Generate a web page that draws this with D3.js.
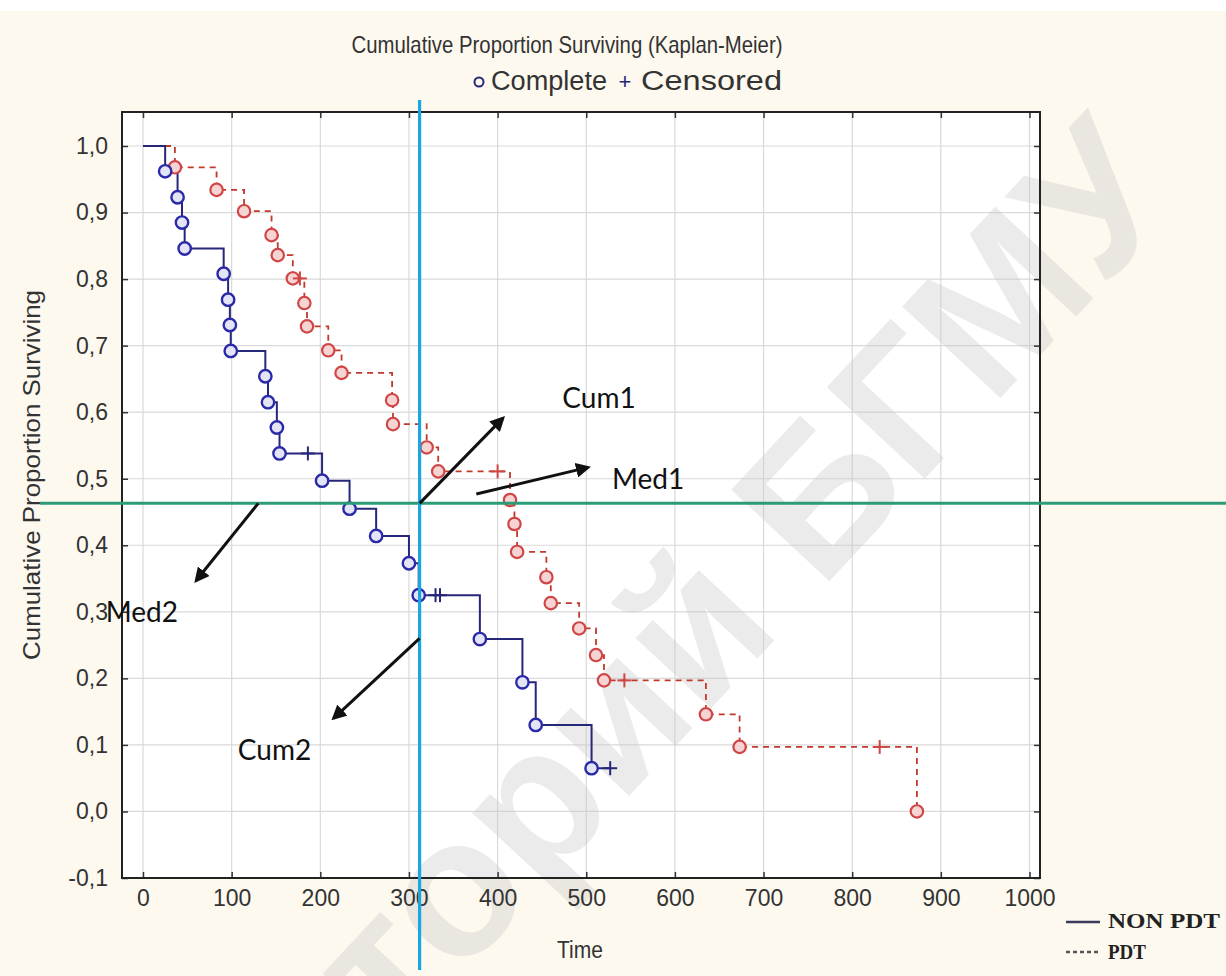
<!DOCTYPE html>
<html><head><meta charset="utf-8">
<script src="https://cdn.jsdelivr.net/npm/d3@7/dist/d3.min.js"></script>
<style>
html,body{margin:0;padding:0;background:#fdf9ef;}
svg{display:block;}
text{font-family:"Liberation Sans",Arial,sans-serif;}
</style></head>
<body><svg id="c" width="1226" height="976"></svg>
<script>
// ---------- data ----------
const xTickValues = [0,100,200,300,400,500,600,700,800,900,1000];
const yTickValues = [-0.1,0,0.1,0.2,0.3,0.4,0.5,0.6,0.7,0.8,0.9,1.0];

// NON PDT (solid, navy): event times and survival after each event
const nonPdtTimes    = [25,39,44,47,91,96,98,99,138,141,151,154,202,233,263,300,311,380,428,443,506];
const nonPdtSurvival = [0.962,0.923,0.885,0.846,0.808,0.769,0.731,0.692,0.654,0.615,0.577,0.538,0.497,0.455,0.414,0.373,0.325,0.259,0.194,0.130,0.065];
const nonPdtCensorTimes = [186,330,335,527];
const nonPdtCensorSurv  = [0.538,0.325,0.325,0.065];

// PDT (dashed, red)
const pdtTimes    = [36,83,114,145,152,169,182,185,209,224,281,282,320,333,414,419,422,455,460,492,511,520,635,673,873];
const pdtSurvival = [0.968,0.934,0.902,0.866,0.836,0.801,0.764,0.729,0.693,0.659,0.618,0.582,0.547,0.511,0.468,0.432,0.390,0.352,0.313,0.275,0.235,0.197,0.146,0.097,0.0];
const pdtCensorTimes = [177,400,543,831];
const pdtCensorSurv  = [0.801,0.511,0.197,0.097];

// reference lines
const medianLineValue = 0.463;
const cumLineTime = 312;

// annotation arrows [time, surv]
const arrowNames = ["Cum1","Med1","Med2","Cum2"];
const arrowFrom  = [[312,0.463],[376,0.477],[130,0.463],[312,0.260]];
const arrowTo    = [[406,0.591],[502,0.517],[60,0.347],[215,0.140]];
const labelPos   = [[473,0.606],[529,0.484],[-42,0.284],[107,0.077]];

// ---------- layout ----------
const svg = d3.select("#c");
const W = 1226, H = 976;
const frame = {left:122, right:1040, top:112, bottom:878};
const x = d3.scaleLinear().domain([0,1000]).range([143,1029.5]);
const y = d3.scaleLinear().domain([-0.1,1.0]).range([878,146]);
const fmtY = v => d3.format(".1f")(v).replace("−","-").replace(".",",").replace("-0,0","0,0");

svg.append("rect").attr("x",0).attr("y",0).attr("width",W).attr("height",11).attr("fill","#ffffff");
svg.append("rect").attr("x",0).attr("y",11).attr("width",W).attr("height",H-11).attr("fill","#fdf9ef");

// plot area
svg.append("rect").attr("x",frame.left).attr("y",frame.top)
  .attr("width",frame.right-frame.left).attr("height",frame.bottom-frame.top).attr("fill","#ffffff");

// grid
const g = svg.append("g");
g.selectAll(".vg").data(xTickValues).join("line")
  .attr("x1",d=>x(d)).attr("x2",d=>x(d)).attr("y1",frame.top).attr("y2",frame.bottom)
  .attr("stroke","#d9d9d9").attr("stroke-width",1.2);
g.selectAll(".hg").data(yTickValues).join("line")
  .attr("y1",d=>y(d)).attr("y2",d=>y(d)).attr("x1",frame.left).attr("x2",frame.right)
  .attr("stroke","#d9d9d9").attr("stroke-width",1.2);

// watermark
svg.append("text").attr("transform","translate(1185,200) rotate(-47)")
  .attr("text-anchor","end").style("font-size","195px").style("font-weight","bold")
  .attr("fill","#c4c4c4").attr("opacity",0.32).text("Репозиторий БГМУ");

// axes
const axL = d3.axisLeft(y).tickValues(yTickValues).tickFormat(fmtY).tickSize(-6).tickPadding(14);
const axB = d3.axisBottom(x).tickValues(xTickValues).tickFormat(d3.format("d")).tickSize(-6).tickPadding(12);
const axT = d3.axisTop(x).tickValues(xTickValues).tickFormat("").tickSize(-6);
const axR = d3.axisRight(y).tickValues(yTickValues).tickFormat("").tickSize(-6);
function styleAxis(sel){
  sel.select(".domain").remove();
  sel.selectAll(".tick line").attr("stroke","#333").attr("stroke-width",1.5);
  sel.selectAll(".tick text").attr("fill","#333").style("font-size","23px");
}
svg.append("g").attr("transform",`translate(${frame.left},0)`).call(axL).call(styleAxis);
svg.append("g").attr("transform",`translate(0,${frame.bottom})`).call(axB).call(styleAxis);
svg.append("g").attr("transform",`translate(0,${frame.top})`).call(axT).call(styleAxis);
svg.append("g").attr("transform",`translate(${frame.right},0)`).call(axR).call(styleAxis);
svg.append("rect").attr("x",frame.left).attr("y",frame.top)
  .attr("width",frame.right-frame.left).attr("height",frame.bottom-frame.top)
  .attr("fill","none").attr("stroke","#222").attr("stroke-width",2);

// step path builder
function stepPts(times, surv, endTime){
  const pts = [[0,1.0]];
  let s = 1.0;
  times.forEach((t,i)=>{ pts.push([t,s]); s = surv[i]; pts.push([t,s]); });
  if(endTime!=null) pts.push([endTime,s]);
  return pts;
}
const line = d3.line().x(d=>x(d[0])).y(d=>y(d[1]));

const navy = "#27277a", navyM = "#2a2aa8", red = "#c0392b", redM = "#d04545";

svg.append("path").attr("d",line(stepPts(pdtTimes,pdtSurvival,null)))
  .attr("fill","none").attr("stroke",red).attr("stroke-width",1.8).attr("stroke-dasharray","6,5");
svg.append("path").attr("d",line(stepPts(nonPdtTimes,nonPdtSurvival,527)))
  .attr("fill","none").attr("stroke",navy).attr("stroke-width",2);

svg.selectAll(".pc").data(pdtTimes.map((t,i)=>[t,pdtSurvival[i]])).join("circle")
  .attr("cx",d=>x(d[0])).attr("cy",d=>y(d[1])).attr("r",6.2)
  .attr("fill","#f7d4d4").attr("stroke",redM).attr("stroke-width",2.2);
svg.selectAll(".nc").data(nonPdtTimes.map((t,i)=>[t,nonPdtSurvival[i]])).join("circle")
  .attr("cx",d=>x(d[0])).attr("cy",d=>y(d[1])).attr("r",6.2)
  .attr("fill","#e4e4f7").attr("stroke",navyM).attr("stroke-width",2.4);

function plus(data, color, sz, sw){
  const gp = svg.append("g");
  data.forEach(d=>{
    const cx=x(d[0]), cy=y(d[1]);
    gp.append("line").attr("x1",cx-sz).attr("x2",cx+sz).attr("y1",cy).attr("y2",cy).attr("stroke",color).attr("stroke-width",sw);
    gp.append("line").attr("x1",cx).attr("x2",cx).attr("y1",cy-sz).attr("y2",cy+sz).attr("stroke",color).attr("stroke-width",sw);
  });
}
plus(pdtCensorTimes.map((t,i)=>[t,pdtCensorSurv[i]]), redM, 7, 2);
plus(nonPdtCensorTimes.map((t,i)=>[t,nonPdtCensorSurv[i]]), navy, 7, 2);

// reference lines
svg.append("line").attr("x1",40).attr("x2",W).attr("y1",y(medianLineValue)).attr("y2",y(medianLineValue))
  .attr("stroke","#2b9b78").attr("stroke-width",3);
svg.append("line").attr("x1",x(cumLineTime)).attr("x2",x(cumLineTime)).attr("y1",100).attr("y2",970)
  .attr("stroke","#1aa5e3").attr("stroke-width",3.2);

// arrows
const defs = svg.append("defs");
defs.append("marker").attr("id","ah").attr("viewBox","0 0 10 10").attr("refX",8).attr("refY",5)
  .attr("markerWidth",5).attr("markerHeight",5).attr("orient","auto")
  .append("path").attr("d","M0,0 L10,5 L0,10 z").attr("fill","#111");
arrowNames.forEach((n,i)=>{
  svg.append("line").attr("x1",x(arrowFrom[i][0])).attr("y1",y(arrowFrom[i][1]))
    .attr("x2",x(arrowTo[i][0])).attr("y2",y(arrowTo[i][1]))
    .attr("stroke","#111").attr("stroke-width",3).attr("marker-end","url(#ah)");
  svg.append("text").attr("x",x(labelPos[i][0])).attr("y",y(labelPos[i][1]))
    .style("font-family","Lato,'Open Sans',sans-serif").style("font-size","28px").attr("fill","#111").text(n);
});

// titles
svg.append("text").attr("x",567).attr("y",53).attr("text-anchor","middle")
  .attr("textLength",431).attr("lengthAdjust","spacingAndGlyphs")
  .style("font-size","24px").attr("fill","#333").text("Cumulative Proportion Surviving (Kaplan-Meier)");
svg.append("circle").attr("cx",479).attr("cy",82).attr("r",4.5).attr("fill","none").attr("stroke",navy).attr("stroke-width",2);
svg.append("text").attr("x",491).attr("y",90).attr("textLength",116).attr("lengthAdjust","spacingAndGlyphs")
  .style("font-size","27px").attr("fill","#333").text("Complete");
svg.append("text").attr("x",625).attr("y",89).attr("text-anchor","middle").style("font-size","22px").attr("fill",navy).text("+");
svg.append("text").attr("x",641).attr("y",90).attr("textLength",141).attr("lengthAdjust","spacingAndGlyphs")
  .style("font-size","27px").attr("fill","#333").text("Censored");
svg.append("text").attr("transform","translate(40,475) rotate(-90)").attr("text-anchor","middle")
  .attr("textLength",370).attr("lengthAdjust","spacingAndGlyphs")
  .style("font-size","24px").attr("fill","#333").text("Cumulative Proportion Surviving");
svg.append("text").attr("x",580).attr("y",958).attr("text-anchor","middle").attr("textLength",46).attr("lengthAdjust","spacingAndGlyphs")
  .style("font-size","23px").attr("fill","#333").text("Time");

// legend
svg.append("line").attr("x1",1066).attr("x2",1100).attr("y1",922).attr("y2",922).attr("stroke","#3a3a5a").attr("stroke-width",2.5);
svg.append("line").attr("x1",1066).attr("x2",1100).attr("y1",952).attr("y2",952).attr("stroke","#555").attr("stroke-width",2.5).attr("stroke-dasharray","4,3");
svg.append("text").attr("x",1108).attr("y",928).attr("textLength",112).attr("lengthAdjust","spacingAndGlyphs")
  .style("font-family","'Liberation Serif',serif").style("font-weight","bold").style("font-size","21px").attr("fill","#222").text("NON PDT");
svg.append("text").attr("x",1108).attr("y",959).attr("textLength",38).attr("lengthAdjust","spacingAndGlyphs")
  .style("font-family","'Liberation Serif',serif").style("font-weight","bold").style("font-size","21px").attr("fill","#222").text("PDT");
</script></body></html>
